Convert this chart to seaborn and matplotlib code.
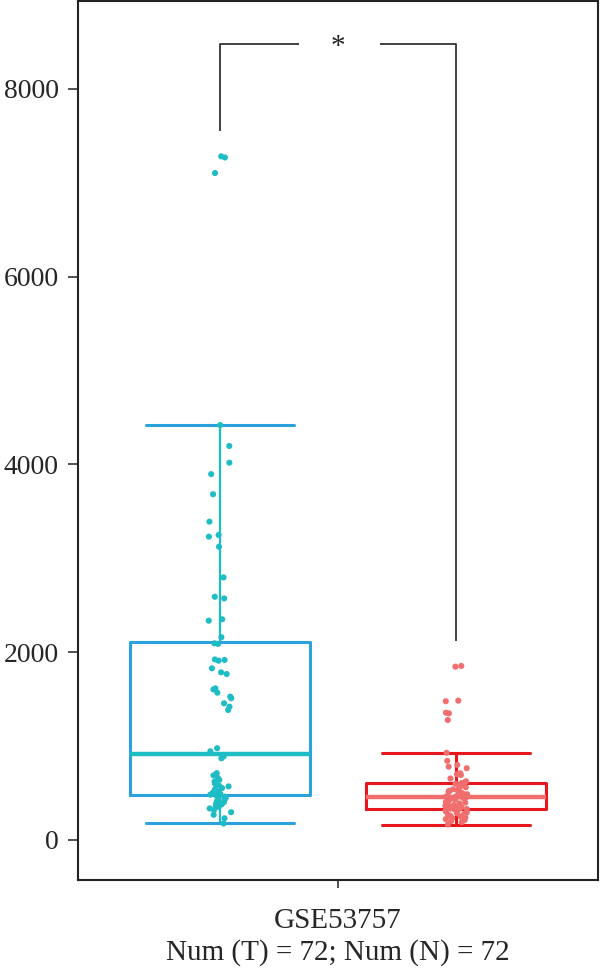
import numpy as np
import pandas as pd
import matplotlib
matplotlib.use("Agg")
import matplotlib.pyplot as plt
import seaborn as sns

# values (72 tumour, 72 normal samples)
dataset = "GSE53757"
groups = ["Tumor", "Normal"]
tumor_values = [
    7282, 7270, 7104,
    4420, 4197, 4019, 3897, 3683, 3391, 3249, 3231, 3124, 2797, 2591, 2573,
    2351, 2336, 2160, 2095, 2088,
    1923, 1918, 1910, 1829, 1786, 1768, 1615, 1604, 1569, 1527, 1510, 1456,
    1420, 1385,
    977, 945, 890, 870,
    712, 688, 660, 641, 622, 598, 580, 571, 553, 540, 528, 515, 506, 497,
    490, 483, 478,
    470, 462, 451, 440, 428, 417, 404, 392, 380, 366, 352, 336, 318, 296,
    268, 231, 176,
]
normal_values = [
    1854, 1846, 1484, 1478, 1356, 1349, 1278,
    929, 843, 800, 781, 764, 710, 700, 692, 655,
    625, 612, 605,
    598, 590, 581, 570, 561, 552, 540, 531, 522, 512, 503, 495, 487, 478,
    470, 464, 460, 455,
    449, 441, 432, 424, 415, 406, 398, 389, 380, 372, 364, 357, 350, 344,
    339, 335, 332, 330,
    326, 318, 311, 302, 294, 285, 276, 268, 259, 250, 241, 232, 222, 212,
    201, 190, 165,
]
tick_label = "GSE53757\nNum (T) = 72; Num (N) = 72"
y_ticks = [0, 2000, 4000, 6000, 8000]

box_colors = {"Tumor": "#2BA2DE", "Normal": "#E8161D"}
dot_colors = {"Tumor": "#1EBCC4", "Normal": "#F06E6E"}

df = pd.DataFrame({
    "dataset": dataset,
    "group": ["Tumor"] * len(tumor_values) + ["Normal"] * len(normal_values),
    "value": tumor_values + normal_values,
})

sns.set_style("ticks")
plt.rcParams["font.family"] = ["Liberation Serif", "DejaVu Serif"]

fig = plt.figure(figsize=(6, 9.77), dpi=100)
ax = fig.add_axes([0.13, 0.0993, 0.8667, 0.8997])

sns.boxplot(data=df, x="dataset", y="value", hue="group", hue_order=groups,
            palette=box_colors, fill=False, width=0.8, gap=0.237,
            showfliers=False, linewidth=2.2, capwidths=0.25, legend=False,
            ax=ax)

# medians and whisker stems take the point colour
for cont in ax.containers:
    g = "Tumor" if np.mean(cont.medians[0].get_xdata()) < 0 else "Normal"
    for m in cont.medians:
        m.set_color(dot_colors[g])
        m.set_linewidth(3.2)
    if g == "Tumor":
        for w in cont.whiskers:
            w.set_color(dot_colors[g])
            w.set_linewidth(1.6)

np.random.seed(3)
sns.stripplot(data=df, x="dataset", y="value", hue="group", hue_order=groups,
              palette=dot_colors, dodge=True, jitter=0.04, size=4.4,
              linewidth=0, legend=False, zorder=3, ax=ax)

# significance bracket
off = 265
top = max(tumor_values + normal_values) + 1200
ax.plot([-0.2, -0.2, -0.066], [max(tumor_values) + off, top, top],
        color="#333333", lw=1.3, solid_capstyle="butt")
ax.plot([0.072, 0.2, 0.2], [top, top, max(normal_values) + off],
        color="#333333", lw=1.3, solid_capstyle="butt")
ax.text(0, top - 40, "*", ha="center", va="center", fontsize=21,
        color="#222222")

ax.set_xlim(-0.4407, 0.4407)
ax.set_ylim(-426, 8937)
ax.set_yticks(y_ticks)
ax.set_xticks([0])
ax.set_xticklabels([tick_label], linespacing=1.25)
ax.set_xlabel("")
ax.set_ylabel("")
ax.tick_params(axis="y", labelsize=20, length=7, width=1.2, pad=7,
               color="#333333")
ax.tick_params(axis="x", labelsize=21, length=6, width=1.2, pad=14,
               color="#333333")
for s in ax.spines.values():
    s.set_linewidth(1.5)
    s.set_color("#222222")

fig.savefig("out.png", dpi=100)
